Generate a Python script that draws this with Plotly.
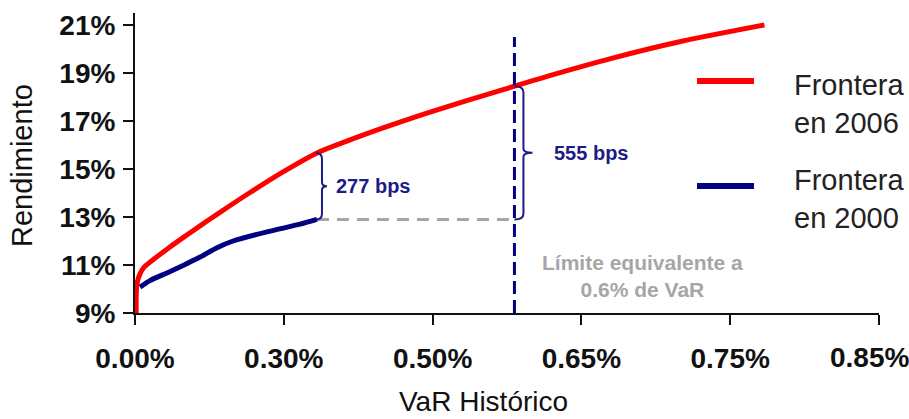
import plotly.graph_objects as go

# Horizontal axis: evenly spaced VaR tick slots (position 0..5 along the axis)
X_TICK_POS = [0, 1, 2, 3, 4, 5]
X_TICK_LABELS = ["0.00%", "0.30%", "0.50%", "0.65%", "0.75%", "0.85%"]
Y_TICKS = [9, 11, 13, 15, 17, 19, 21]
Y_TICK_LABELS = ["9%", "11%", "13%", "15%", "17%", "19%", "21%"]

# Efficient frontier 2006 (x in axis-slot units, y = return in %)
frontera_2006_x = [0.008, 0.008, 0.012, 0.03, 0.06, 0.134, 0.215, 0.323, 0.437, 0.551,
                   0.773, 0.995, 1.223, 1.445, 1.667, 1.895, 2.117, 2.319, 2.55, 2.77,
                   3.21, 3.66, 4.23]
frontera_2006_y = [9.0, 9.6, 10.17, 10.58, 10.9, 11.28, 11.66, 12.14, 12.63, 13.11,
                   14.02, 14.88, 15.67, 16.21, 16.71, 17.19, 17.63, 18.02, 18.45, 18.86,
                   19.62, 20.3, 21.0]

# Efficient frontier 2000
frontera_2000_x = [0.034, 0.1, 0.215, 0.33, 0.437, 0.551, 0.659, 0.887, 1.109, 1.223]
frontera_2000_y = [10.08, 10.35, 10.67, 11.0, 11.33, 11.72, 12.0, 12.38, 12.7, 12.9]

# VaR limit (0.6%) position on the axis and the return gaps in basis points
VAR_LIMIT_X = 2.55
GAP_END_2000_BPS = 277
GAP_AT_LIMIT_BPS = 555

RED = "#ff0000"
NAVY = "#000080"
BRACE = "#1c1c86"
GREY = "#a6a6a6"
INK = "#111111"
FONT = "Arial, Liberation Sans, sans-serif"

# pixel -> data conversion for decorative sizes
PX_X = 5 / 744.0
PX_Y = 12.5 / 300.0

end_x = frontera_2000_x[-1]
end_y = frontera_2000_y[-1]
top_1 = end_y + GAP_END_2000_BPS / 100.0
top_2 = end_y + GAP_AT_LIMIT_BPS / 100.0


def brace_path(x0, yb, yt, w_px, c_px, r_px=6):
    """Right-pointing curly brace from yb to yt, hooks ending at x0."""
    x1 = x0 + w_px * PX_X
    x2 = x1 + c_px * PX_X
    ym = (yt + yb) / 2
    r = r_px * PX_Y
    rc = 4 * PX_Y
    return (f"M {x0},{yt} Q {x1},{yt} {x1},{yt - r} L {x1},{ym + rc} "
            f"Q {x1},{ym} {x2},{ym} Q {x1},{ym} {x1},{ym - rc} "
            f"L {x1},{yb + r} Q {x1},{yb} {x0},{yb}")


fig = go.Figure()

fig.add_trace(go.Scatter(
    x=frontera_2006_x, y=frontera_2006_y, mode="lines",
    line=dict(color=RED, width=5, shape="spline", smoothing=0.8),
    name="Frontera en 2006", showlegend=False, hoverinfo="skip"))

fig.add_trace(go.Scatter(
    x=frontera_2000_x, y=frontera_2000_y, mode="lines",
    line=dict(color=NAVY, width=5, shape="spline", smoothing=0.6),
    name="Frontera en 2000", showlegend=False, hoverinfo="skip"))

shapes = [
    # grey reference level from the end of the 2000 frontier to the VaR limit
    dict(type="line", xref="x", yref="y", x0=end_x, x1=VAR_LIMIT_X, y0=end_y, y1=end_y,
         line=dict(color=GREY, width=3, dash="12px,8px"), layer="below"),
    # VaR limit
    dict(type="line", xref="x", yref="y", x0=VAR_LIMIT_X, x1=VAR_LIMIT_X, y0=9, y1=20.5,
         line=dict(color=NAVY, width=3, dash="13px,6px")),
    # braces
    dict(type="path", xref="x", yref="y",
         path=brace_path(end_x - 1 * PX_X, end_y, top_1, 6, 5),
         line=dict(color=BRACE, width=2)),
    dict(type="path", xref="x", yref="y",
         path=brace_path(VAR_LIMIT_X, end_y, top_2, 9, 9),
         line=dict(color=BRACE, width=2)),
    # legend swatches
    dict(type="line", xref="paper", yref="paper", x0=0.7554, x1=0.8320,
         y0=0.7733, y1=0.7733, line=dict(color=RED, width=6)),
    dict(type="line", xref="paper", yref="paper", x0=0.7554, x1=0.8320,
         y0=0.4233, y1=0.4233, line=dict(color=NAVY, width=6)),
]

tick_font = dict(family=FONT, size=28, color=INK, weight="bold")

annotations = [
    dict(xref="x", yref="y", x=end_x, y=(end_y + top_1) / 2, xshift=17,
         text=f"<b>{GAP_END_2000_BPS} bps</b>", showarrow=False, xanchor="left",
         yanchor="middle", font=dict(family=FONT, size=20, color=BRACE)),
    dict(xref="x", yref="y", x=VAR_LIMIT_X, y=(end_y + top_2) / 2, xshift=38,
         text=f"<b>{GAP_AT_LIMIT_BPS} bps</b>", showarrow=False, xanchor="left",
         yanchor="middle", font=dict(family=FONT, size=20, color=BRACE)),
    dict(xref="paper", yref="paper", x=(642 - 135) / 744, y=(313 - 276) / 300,
         text="<b>Límite equivalente a<br>0.6% de VaR</b>", showarrow=False,
         xanchor="center", yanchor="middle", align="center",
         font=dict(family=FONT, size=21, color=GREY)),
    dict(xref="paper", yref="paper", x=(792 - 135) / 744, y=(313 - 104) / 300,
         text="Frontera<br>en 2006", showarrow=False, xanchor="left", yanchor="middle",
         align="left", font=dict(family=FONT, size=29, color="#222222")),
    dict(xref="paper", yref="paper", x=(792 - 135) / 744, y=(313 - 198.5) / 300,
         text="Frontera<br>en 2000", showarrow=False, xanchor="left", yanchor="middle",
         align="left", font=dict(family=FONT, size=29, color="#222222")),
    # last tick label sits flush with the right edge
    dict(xref="x", yref="paper", x=X_TICK_POS[-1], y=(313 - 357) / 300, xshift=-10,
         text=X_TICK_LABELS[-1], showarrow=False, xanchor="center", yanchor="middle",
         font=tick_font),
    # axis titles
    dict(xref="paper", yref="paper", x=(22 - 135) / 744, y=(313 - 166) / 300,
         text="Rendimiento", textangle=-90, showarrow=False, xanchor="center",
         yanchor="middle", font=dict(family=FONT, size=29, color=INK)),
    dict(xref="paper", yref="paper", x=(483 - 135) / 744, y=(313 - 401) / 300,
         text="VaR Histórico", showarrow=False, xanchor="center", yanchor="middle",
         font=dict(family=FONT, size=28, color=INK)),
]

axis_common = dict(showgrid=False, zeroline=False, showline=True, linecolor=INK,
                   linewidth=2, ticks="outside", ticklen=10, tickwidth=2,
                   tickcolor=INK, tickfont=tick_font)

fig.update_layout(
    width=909, height=419,
    margin=dict(l=135, r=30, t=13, b=106, autoexpand=False),
    paper_bgcolor="white", plot_bgcolor="white",
    showlegend=False,
    xaxis=dict(range=[0, 5], tickvals=X_TICK_POS,
               ticktext=X_TICK_LABELS[:-1] + [""],
               ticklabelstandoff=9, **axis_common),
    yaxis=dict(range=[9, 21.5], tickvals=Y_TICKS, ticktext=Y_TICK_LABELS,
               ticklabelstandoff=2, **axis_common),
    shapes=shapes,
    annotations=annotations,
)

fig.write_html("out.html")
